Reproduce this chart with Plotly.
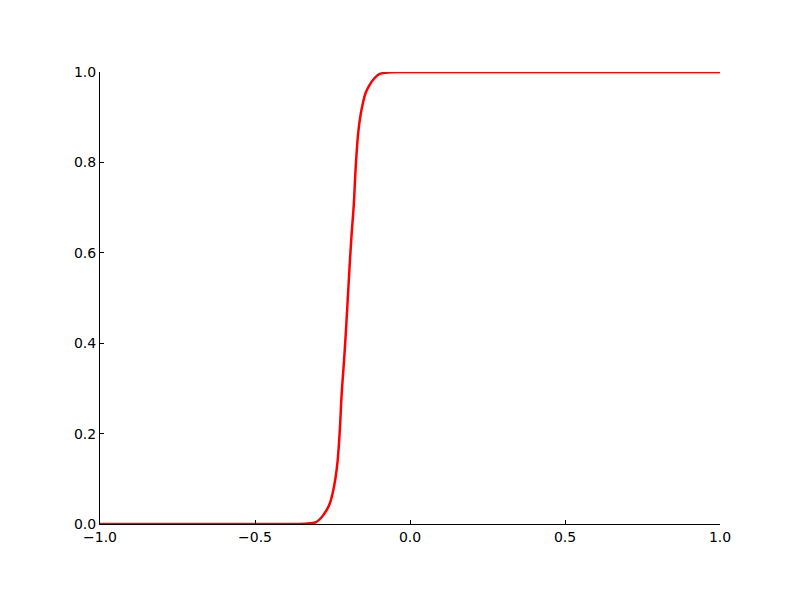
import plotly.graph_objects as go

# Values
x_vals = [-1.0, -0.6, -0.3387, -0.3226, -0.3032, -0.2871, -0.2687, -0.2581, -0.2494,
          -0.2403, -0.2332, -0.2258, -0.2203, -0.2126, -0.2065, -0.2006, -0.1948,
          -0.1887, -0.1810, -0.1755, -0.1681, -0.1610, -0.1519, -0.1432, -0.1326,
          -0.1142, -0.0981, -0.0787, -0.0626, -0.04, 0.0, 0.5, 1.0]
y_vals = [0.0, 0.0, 0.0004, 0.0015, 0.0044, 0.0133, 0.0310, 0.0465, 0.0686,
          0.1018, 0.1416, 0.2146, 0.2898, 0.3628, 0.4292, 0.5, 0.5708,
          0.6372, 0.7102, 0.7854, 0.8584, 0.8982, 0.9314, 0.9535, 0.9690,
          0.9867, 0.9956, 0.9985, 0.9996, 1.0, 1.0, 1.0, 1.0]

x_ticks = [-1.0, -0.5, 0.0, 0.5, 1.0]
y_ticks = [0.0, 0.2, 0.4, 0.6, 0.8, 1.0]

fig = go.Figure()
fig.add_trace(go.Scatter(x=x_vals, y=y_vals, mode="lines",
                         line=dict(color="#ff0000", width=2.5, shape="spline", smoothing=1.0),
                         showlegend=False, hoverinfo="skip"))

axis_common = dict(showgrid=False, zeroline=False, showline=True, linecolor="black",
                   linewidth=1, ticks="inside", ticklen=4, tickwidth=1, tickcolor="black",
                   tickfont=dict(family="DejaVu Sans", size=14, color="black"),
                   tickformat=".1f", mirror=False)

fig.update_xaxes(range=[-1, 1], tickvals=x_ticks, **axis_common)
fig.update_yaxes(range=[0, 1], tickvals=y_ticks, **axis_common)

fig.update_layout(width=800, height=600, autosize=False,
                  margin=dict(l=92, r=88, t=64, b=84),
                  plot_bgcolor="white", paper_bgcolor="white")

fig.write_html("out.html")
